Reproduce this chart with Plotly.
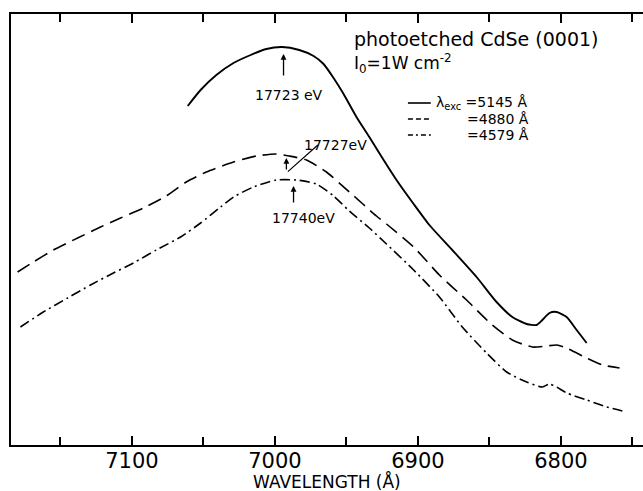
import plotly.graph_objects as go

# Wavelength (Å) and relative intensity (arbitrary units)
wl_5145 = [7061, 7052, 7041, 7029, 7017, 7006, 6995, 6983, 6973, 6966, 6959, 6952,
           6943, 6934, 6924, 6915, 6903, 6892, 6876, 6859, 6845, 6834, 6824, 6817,
           6813, 6808, 6803, 6796, 6789, 6782]
int_5145 = [339, 355, 370, 382, 390, 396, 398, 395, 389, 381, 367, 351,
            328, 308, 285, 265, 241, 220, 195, 168, 143, 128, 121, 120,
            125, 132, 133, 128, 115, 102]

wl_4880 = [7180, 7169, 7155, 7138, 7122, 7108, 7092, 7076, 7062, 7048, 7029, 7013,
           6999, 6990, 6978, 6964, 6948, 6929, 6922, 6903, 6885, 6866, 6848, 6834,
           6820, 6810, 6803, 6796, 6782, 6771, 6759]
int_4880 = [173, 183, 195, 207, 218, 227, 237, 249, 263, 273, 283, 289,
            291, 289, 285, 273, 253, 229, 221, 198, 170, 145, 120, 105,
            98, 99, 100, 97, 87, 80, 77]

wl_4579 = [7178, 7162, 7145, 7129, 7113, 7099, 7083, 7066, 7052, 7038, 7029, 7015,
           6999, 6985, 6971, 6959, 6948, 6934, 6922, 6903, 6885, 6869, 6852, 6838,
           6824, 6813, 6808, 6803, 6796, 6782, 6768, 6757]
int_4579 = [118, 133, 147, 160, 172, 182, 195, 208, 222, 238, 248, 258,
            265, 265, 261, 249, 234, 217, 201, 175, 148, 118, 92, 73,
            63, 58, 61, 58, 52, 45, 38, 34]

series_names = ["λ<sub>exc</sub> =5145 Å", "=4880 Å", "=4579 Å"]
series_dash = ["solid", "14px,7px", "10px,4px,2px,4px"]
legend_dash = ["solid", "5px,3px", "5px,3px,2px,3px"]

peak_labels = ["17723 eV", "17727eV", "17740eV"]
x_tick_vals = [7100, 7000, 6900, 6800]
x_tick_text = ["7100", "7000", "6900", "6800"]
x_title = "WAVELENGTH (Å)"

FONT = "DejaVu Sans"

fig = go.Figure()
for wl, inten, name, dash, w in [(wl_5145, int_5145, series_names[0], series_dash[0], 1.9),
                                 (wl_4880, int_4880, series_names[1], series_dash[1], 1.6),
                                 (wl_4579, int_4579, series_names[2], series_dash[2], 1.6)]:
    fig.add_trace(go.Scatter(x=wl, y=inten, mode="lines", name=name,
                             line=dict(color="black", width=w, shape="spline",
                                       smoothing=0.6, dash=dash)))

annos = [
    # peak labels
    dict(x=6990, y=350, text=peak_labels[0], showarrow=False, font=dict(size=14)),
    dict(x=6958, y=300, text=peak_labels[1], showarrow=False, font=dict(size=14)),
    dict(x=6980, y=227, text=peak_labels[2], showarrow=False, font=dict(size=14)),
    # arrows
    dict(x=6994, y=391, ax=6994, ay=368, axref="x", ayref="y", text="", showarrow=True,
         arrowhead=2, arrowsize=0.9, arrowwidth=1.3, arrowcolor="black"),
    dict(x=6992, y=287, ax=6992, ay=274, axref="x", ayref="y", text="", showarrow=True,
         arrowhead=2, arrowsize=0.9, arrowwidth=1.3, arrowcolor="black"),
    dict(x=6970, y=300, ax=6992, ay=272, axref="x", ayref="y", text="", showarrow=True,
         arrowhead=0, arrowwidth=1.2, arrowcolor="black"),
    dict(x=6987, y=259, ax=6987, ay=241, axref="x", ayref="y", text="", showarrow=True,
         arrowhead=2, arrowsize=0.9, arrowwidth=1.3, arrowcolor="black"),
    # title texts
    dict(x=6946, y=406, text="photoetched CdSe (0001)", showarrow=False, xanchor="left",
         font=dict(size=19)),
    dict(x=6946, y=382, text="I<sub>0</sub>=1W cm<sup>-2</sup>", showarrow=False,
         xanchor="left", font=dict(size=17)),
    # legend texts
    dict(x=6889, y=342, text=series_names[0], showarrow=False, xanchor="left",
         font=dict(size=14)),
    dict(x=6867, y=326, text=series_names[1], showarrow=False, xanchor="left",
         font=dict(size=14)),
    dict(x=6867, y=310, text=series_names[2], showarrow=False, xanchor="left",
         font=dict(size=14)),
    # x-axis title
    dict(x=0.5, y=-0.085, xref="paper", yref="paper", text=x_title, showarrow=False,
         xanchor="center", yanchor="middle", font=dict(size=17)),
]
for a in annos:
    a.setdefault("xref", "x")
    a.setdefault("yref", "y")
    fig.add_annotation(**a)

# legend sample lines
for yy, dsh in zip([342, 326, 310], legend_dash):
    fig.add_shape(type="line", xref="x", yref="y", x0=6907, x1=6891, y0=yy, y1=yy,
                  line=dict(color="black", width=1.6, dash=dsh))

fig.update_layout(
    width=643, height=491,
    margin=dict(l=11, r=0, t=14, b=46),
    paper_bgcolor="white", plot_bgcolor="white",
    font=dict(family=FONT, color="black"),
    showlegend=False,
    xaxis=dict(range=[7184.6, 6742.6], showline=True, linecolor="black", linewidth=1.5,
               mirror="allticks", ticks="inside", ticklen=9, tickwidth=1.5,
               tickcolor="black", tickmode="array", tickvals=x_tick_vals,
               ticktext=x_tick_text, tickfont=dict(size=21), ticklabelstandoff=-4,
               automargin=False,
               minor=dict(ticks="inside", ticklen=8, tickwidth=1.5, tickcolor="black",
                          dtick=50, tick0=6750, showgrid=False),
               showgrid=False, zeroline=False),
    yaxis=dict(range=[0, 431], showline=True, linecolor="black", linewidth=1.5,
               automargin=False,
               ticks="", showticklabels=False, showgrid=False, zeroline=False),
)

fig.write_html("out.html")
